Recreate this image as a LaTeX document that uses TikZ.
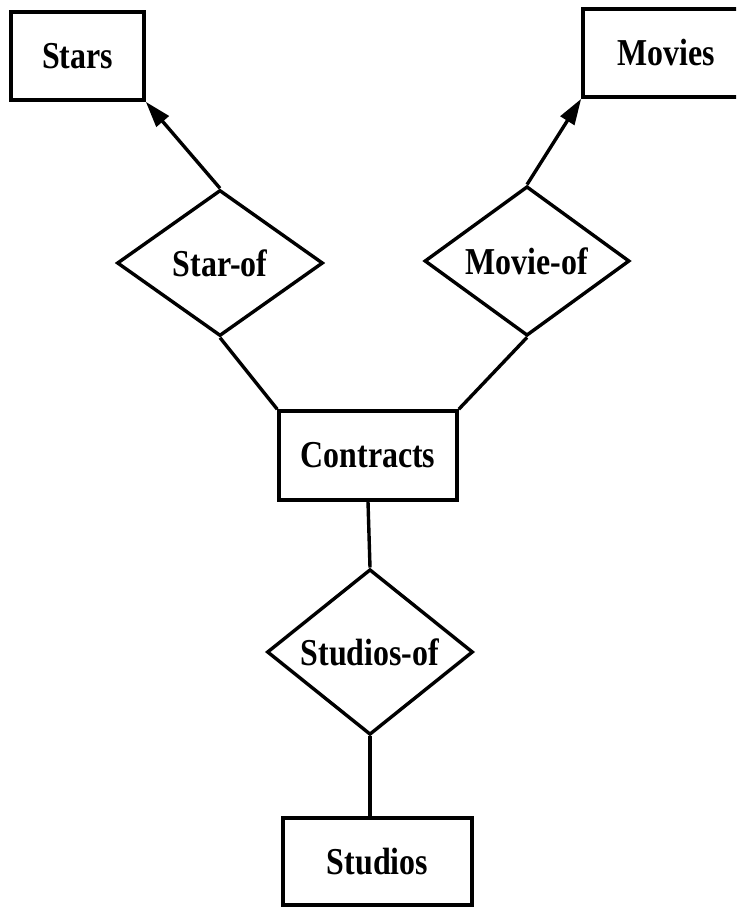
\documentclass[tikz,border=0pt]{standalone}
\usepackage{fontspec}
\setmainfont{Liberation Serif}[FakeStretch=0.84]
\usetikzlibrary{shapes.geometric,arrows.meta}

\tikzset{
  entity/.style={draw, line width=3.6pt, rectangle, inner sep=0pt,
    font=\fontsize{38}{40}\selectfont\bfseries},
  relation/.style={draw, line width=3.4pt, diamond, inner sep=0pt,
    font=\fontsize{38}{40}\selectfont\bfseries},
  link/.style={line width=3.4pt},
  tolink/.style={line width=3.4pt, -{Triangle[length=26pt,width=16pt]}}
}

\begin{document}
\begin{tikzpicture}[x=1pt,y=-1pt]
  \clip (0,0) rectangle (736,907);
  \useasboundingbox (0,0) rectangle (736,907);

  % entity sets
  \node[entity, minimum width=133pt, minimum height=88pt] (stars) at (77.5,56) {Stars};
  \node[entity, minimum width=167pt, minimum height=88pt] (movies) at (666.5,53) {Movies};
  \node[entity, minimum width=178pt, minimum height=89pt] (contracts) at (368,455.5) {Contracts};
  \node[entity, minimum width=189pt, minimum height=87pt] (studios) at (377.5,861.5) {Studios};

  % relationships
  \node[relation, minimum width=206pt, minimum height=146pt] (starof) at (220,263) {Star-of};
  \node[relation, minimum width=205pt, minimum height=147pt] (movieof) at (527,261) {Movie-of};
  \node[relation, minimum width=206pt, minimum height=149pt] (studiosof) at (370,652) {Studios-of};

  % connectors
  \draw[tolink] (starof.north) -- (stars.south east);
  \draw[tolink] (movieof.north) -- (movies.south west);
  \draw[link] (starof.south) -- (contracts.north west);
  \draw[link] (movieof.south) -- (contracts.north east);
  \draw[link] (contracts.south) -- (studiosof.north);
  \draw[link] (studiosof.south) -- (studiosof.south |- studios.north);
\end{tikzpicture}
\end{document}
